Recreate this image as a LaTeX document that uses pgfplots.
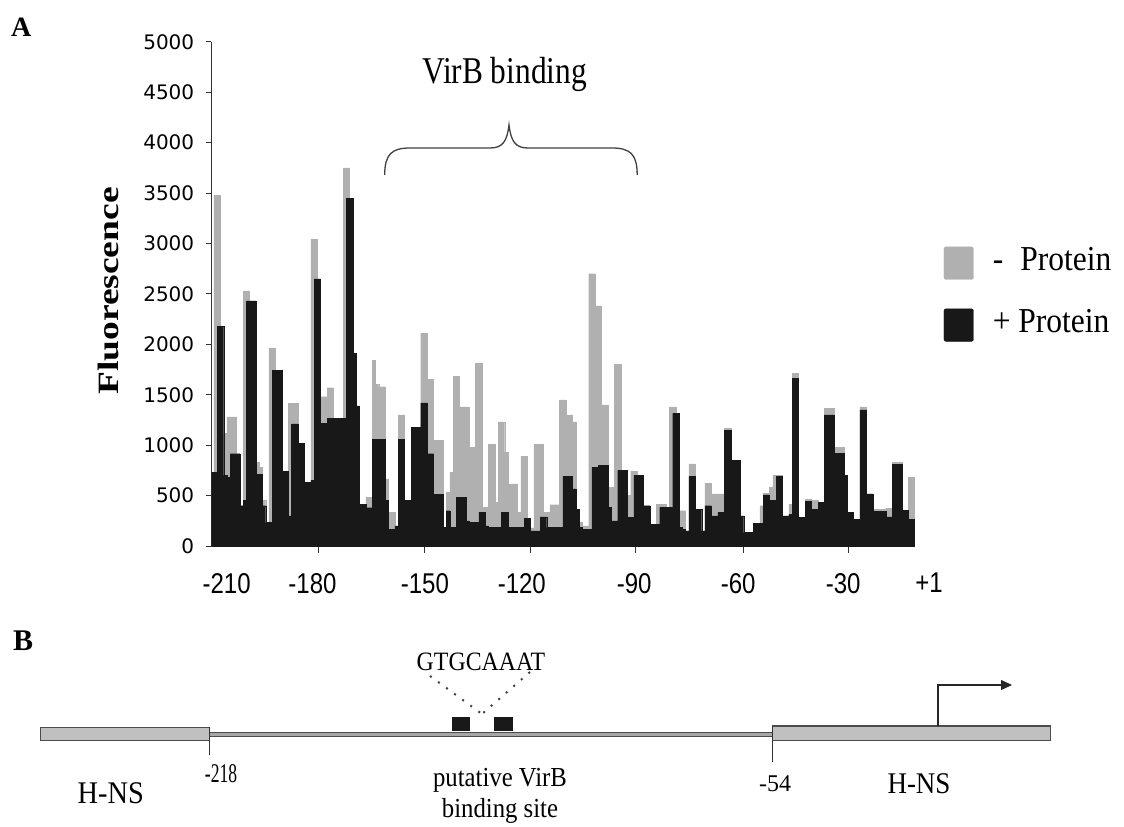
\documentclass[border=0pt]{standalone}
\usepackage{pgfplots}
\pgfplotsset{compat=1.18}
\usepackage{pgfplotstable}
\usepackage{fontspec}
\usetikzlibrary{arrows.meta}
\setmainfont{Liberation Serif}
\newfontfamily\ytf{DejaVu Sans}
\newfontfamily\xtf[FakeStretch=0.84]{Liberation Sans}
\newfontfamily\srA{Liberation Serif}
\newfontfamily\srP[FakeStretch=0.9]{Liberation Serif}
\newfontfamily\srV[FakeStretch=0.83]{Liberation Serif}
\newfontfamily\srC[FakeStretch=0.65]{Liberation Serif}
\newfontfamily\srY[FakeStretch=1.27]{Liberation Serif}
\definecolor{gbar}{RGB}{176,176,176}
\definecolor{kbar}{RGB}{24,24,24}
\definecolor{boxg}{RGB}{192,192,192}
\newcommand\fs[1]{\fontsize{#1bp}{#1bp}\selectfont}

\pgfplotstableread{
p g b
-212 730 730
-211 3480 730
-210 3480 2180
-209 2180 2180
-208 1115 700
-207 1280 680
-206 1280 915
-205 1280 915
-204 915 915
-203 400 400
-202 2530 450
-201 2530 2430
-200 2430 2430
-199 2430 2430
-198 830 710
-197 780 710
-196 450 400
-195 233 233
-194 1965 233
-193 1965 1740
-192 1740 1740
-191 1740 1740
-190 740 740
-189 740 740
-188 1415 300
-187 1415 1210
-186 1415 1210
-185 1015 1015
-184 1015 1015
-183 630 630
-182 630 630
-181 3040 650
-180 3040 2650
-179 2650 2650
-178 1480 1215
-177 1480 1215
-176 1570 1265
-175 1570 1265
-174 1265 1265
-173 1265 1265
-172 1265 1265
-171 3750 1265
-170 3750 3450
-169 3450 3450
-168 1910 1910
-167 1390 1390
-166 415 415
-165 415 415
-164 480 380
-163 480 380
-162 1840 1055
-161 1600 1055
-160 1580 1055
-159 1580 1055
-158 665 450
-157 333 165
-156 333 165
-155 200 200
-154 1300 1055
-153 1300 1055
-152 450 450
-151 450 450
-150 1180 1180
-149 1180 1180
-148 1180 1180
-147 2110 1420
-146 2110 1420
-145 1650 915
-144 1650 915
-143 1050 515
-142 1050 515
-141 1050 515
-140 183 183
-139 533 350
-138 730 183
-137 1680 183
-136 1680 483
-135 1380 483
-134 1380 483
-133 1380 250
-132 980 233
-131 980 233
-130 1815 233
-129 1815 333
-128 383 333
-127 383 200
-126 1010 183
-125 1010 183
-124 433 183
-123 1230 183
-122 1230 333
-121 930 333
-120 615 183
-119 615 183
-118 615 183
-117 333 183
-116 890 183
-115 890 273
-114 273 273
-113 180 150
-112 1010 150
-111 1010 150
-110 1010 290
-109 333 290
-108 333 183
-107 410 183
-106 410 183
-105 410 183
-104 1450 183
-103 1450 690
-102 1300 690
-101 1300 690
-100 1230 566
-99 366 366
-98 233 183
-97 200 166
-96 200 166
-95 2700 166
-94 2700 780
-93 2380 780
-92 2380 800
-91 1400 800
-90 1400 800
-89 583 383
-88 583 250
-87 1800 250
-86 1800 750
-85 750 750
-84 750 750
-83 500 283
-82 743 283
-81 743 700
-80 700 700
-79 700 700
-78 400 400
-77 400 400
-76 216 216
-75 216 216
-74 416 216
-73 416 383
-72 416 383
-71 383 383
-70 1380 383
-69 1380 1315
-68 1315 1315
-67 350 183
-66 350 166
-65 150 150
-64 815 690
-63 815 690
-62 366 366
-61 366 366
-60 150 150
-59 623 400
-58 623 400
-57 516 300
-56 516 300
-55 516 333
-54 516 333
-53 1165 1150
-52 1165 1150
-51 850 850
-50 850 850
-49 850 850
-48 300 300
-47 133 133
-46 133 133
-45 133 133
-44 223 223
-43 223 223
-42 400 223
-41 520 506
-40 520 506
-39 580 456
-38 700 456
-37 700 690
-36 700 690
-35 300 300
-34 300 300
-33 416 316
-32 1715 1665
-31 1715 1665
-30 283 283
-29 283 283
-28 466 440
-27 466 440
-26 450 366
-25 450 366
-24 433 433
-23 433 433
-22 1365 1300
-21 1365 1300
-20 1365 1300
-19 980 920
-18 980 920
-17 980 920
-16 700 700
-15 333 333
-14 333 333
-13 266 266
-12 266 266
-11 1380 1350
-10 1380 1350
-9 516 516
-8 516 516
-7 366 343
-6 366 343
-5 366 343
-4 366 343
-3 376 290
-2 376 290
-1 833 810
0 833 810
1 833 810
2 356 356
3 356 356
4 683 266
5 683 266
}\data

\begin{document}
\begin{tikzpicture}[x=1bp,y=1bp]
\useasboundingbox (0,0) rectangle (1124,-827);
\begin{axis}[
  at={(211.4bp,-546bp)}, anchor=south west,
  x=3.23bp, y=0.10086bp,
  xmin=-212.3, xmax=5.5, ymin=0, ymax=5000,
  axis lines*=left,
  axis line style={line width=0.9bp, black!80},
  tick align=outside,
  major tick length=5bp, minor tick length=7bp,
  tick style={line width=0.9bp, black!80},
  ytick={0,500,...,5000},
  /pgf/number format/assume math mode=true,
  /pgf/number format/1000 sep={},
  yticklabel style={font=\ytf\fs{20}, inner sep=0pt, xshift=-12bp},
  xtick={-207.6,-181.0,-146.2,-116.2,-81.4,-49.2,-16.7},
  xticklabels={\mbox{-210},\mbox{-180},\mbox{-150},\mbox{-120},\mbox{-90},\mbox{-60},\mbox{-30}},
  every major x tick/.append style={draw=none},
  minor xtick={-179.3,-146.4,-113.4,-80.9,-47.6,-15.1},
  xticklabel style={font=\xtf\fs{28.6}, inner sep=0pt, anchor=north, yshift=-22bp},
  extra x ticks={5.5}, extra x tick labels={\mbox{+1}},
  extra x tick style={xticklabel style={xshift=14.1bp}},
  ylabel={\srY\bfseries\fs{29.5}Fluorescence},
  ylabel style={at={(axis description cs:-0.1320,0.5057)}, anchor=base, inner sep=0pt},
  legend style={at={(axis description cs:1.0411,0.5935)}, anchor=north west,
    draw=none, fill=none, inner xsep=0pt, inner ysep=0pt, outer sep=0pt,
    row sep=29bp, column sep=19.2bp, font=\srP\fs{35},
    cells={anchor=base west}, nodes={inner sep=0pt, text depth=0pt}},
]
\addplot[ybar, bar width=1, bar shift=0pt, fill=gbar, draw=gbar, line width=0.3bp,
  legend image code/.code={\fill[gbar, rounded corners=2bp] (0bp,-9.3bp) rectangle (29.5bp,23.3bp);}]
  table[x=p,y=g]{\data};
\addlegendentry{-\hspace{17bp}Protein}
\addplot[ybar, bar width=1, bar shift=0pt, fill=kbar, draw=kbar, line width=0.3bp,
  legend image code/.code={\fill[kbar, rounded corners=2bp] (0bp,-9.3bp) rectangle (29.5bp,23.3bp);}]
  table[x=p,y=b]{\data};
\addlegendentry{+ Protein}
\end{axis}

% panel labels
\node[anchor=base west, inner sep=0pt, font=\srA\bfseries\fs{28}] at (11,-36) {A};
\node[anchor=base west, inner sep=0pt, font=\srA\bfseries\fs{30}] at (13,-650) {B};

% VirB binding brace
\node[anchor=base, inner sep=0pt, font=\srV\fs{37.8}] at (504.6,-83) {VirB binding};
\draw[line width=1.3bp, black!75] (384.7,-175) .. controls (384.7,-154) and (392,-148) .. (410,-148)
  -- (490,-148) .. controls (503,-148) and (507,-141) .. (509,-125)
  .. controls (511,-141) and (515,-148) .. (528,-148) -- (612,-148)
  .. controls (630,-148) and (637.2,-154) .. (637.2,-175);

% panel B
\draw[fill=boxg, draw=black!70, line width=1.1bp] (40.7,-727.3) rectangle (209.3,-740.7);
\draw[fill=boxg, draw=black!70, line width=1.1bp] (772.3,-726) rectangle (1050.7,-740.7);
\draw[fill=black!35, draw=black!70, line width=0.8bp] (209.3,-732.7) rectangle (772.3,-736.7);
\draw[black!80, line width=1bp] (209.3,-727.3) -- (209.3,-755);
\draw[black!80, line width=1bp] (772.3,-726) -- (772.3,-761.7);
\fill[black!90] (451.7,-716.7) rectangle (470,-730.7);
\fill[black!90] (494.3,-716.7) rectangle (512.7,-730.7);
\draw[black!75, line width=2bp, dash pattern=on 2bp off 8bp] (430,-676) -- (482,-714);
\draw[black!75, line width=2bp, dash pattern=on 2bp off 8bp] (530,-672) -- (482,-714);
\draw[black!85, line width=1.2bp, -{Triangle[length=11bp,width=10bp]}] (938,-726) -- (938,-685) -- (1012,-685);
\node[anchor=base, inner sep=0pt, font=\srP\fs{26.5}] at (481,-670) {GTGCAAAT};
\node[anchor=base, inner sep=0pt, font=\srP\fs{27.5}] at (500,-786) {putative VirB};
\node[anchor=base, inner sep=0pt, font=\srP\fs{27.5}] at (500,-817) {binding site};
\node[anchor=base, inner sep=0pt, font=\srP\fs{31.5}] at (110.8,-803) {H-NS};
\node[anchor=base, inner sep=0pt, font=\srC\fs{27}] at (221,-782) {-218};
\node[anchor=base, inner sep=0pt, font=\srA\fs{24}] at (775,-791) {-54};
\node[anchor=base, inner sep=0pt, font=\srP\fs{30}] at (919,-793) {H-NS};
\end{tikzpicture}
\end{document}
